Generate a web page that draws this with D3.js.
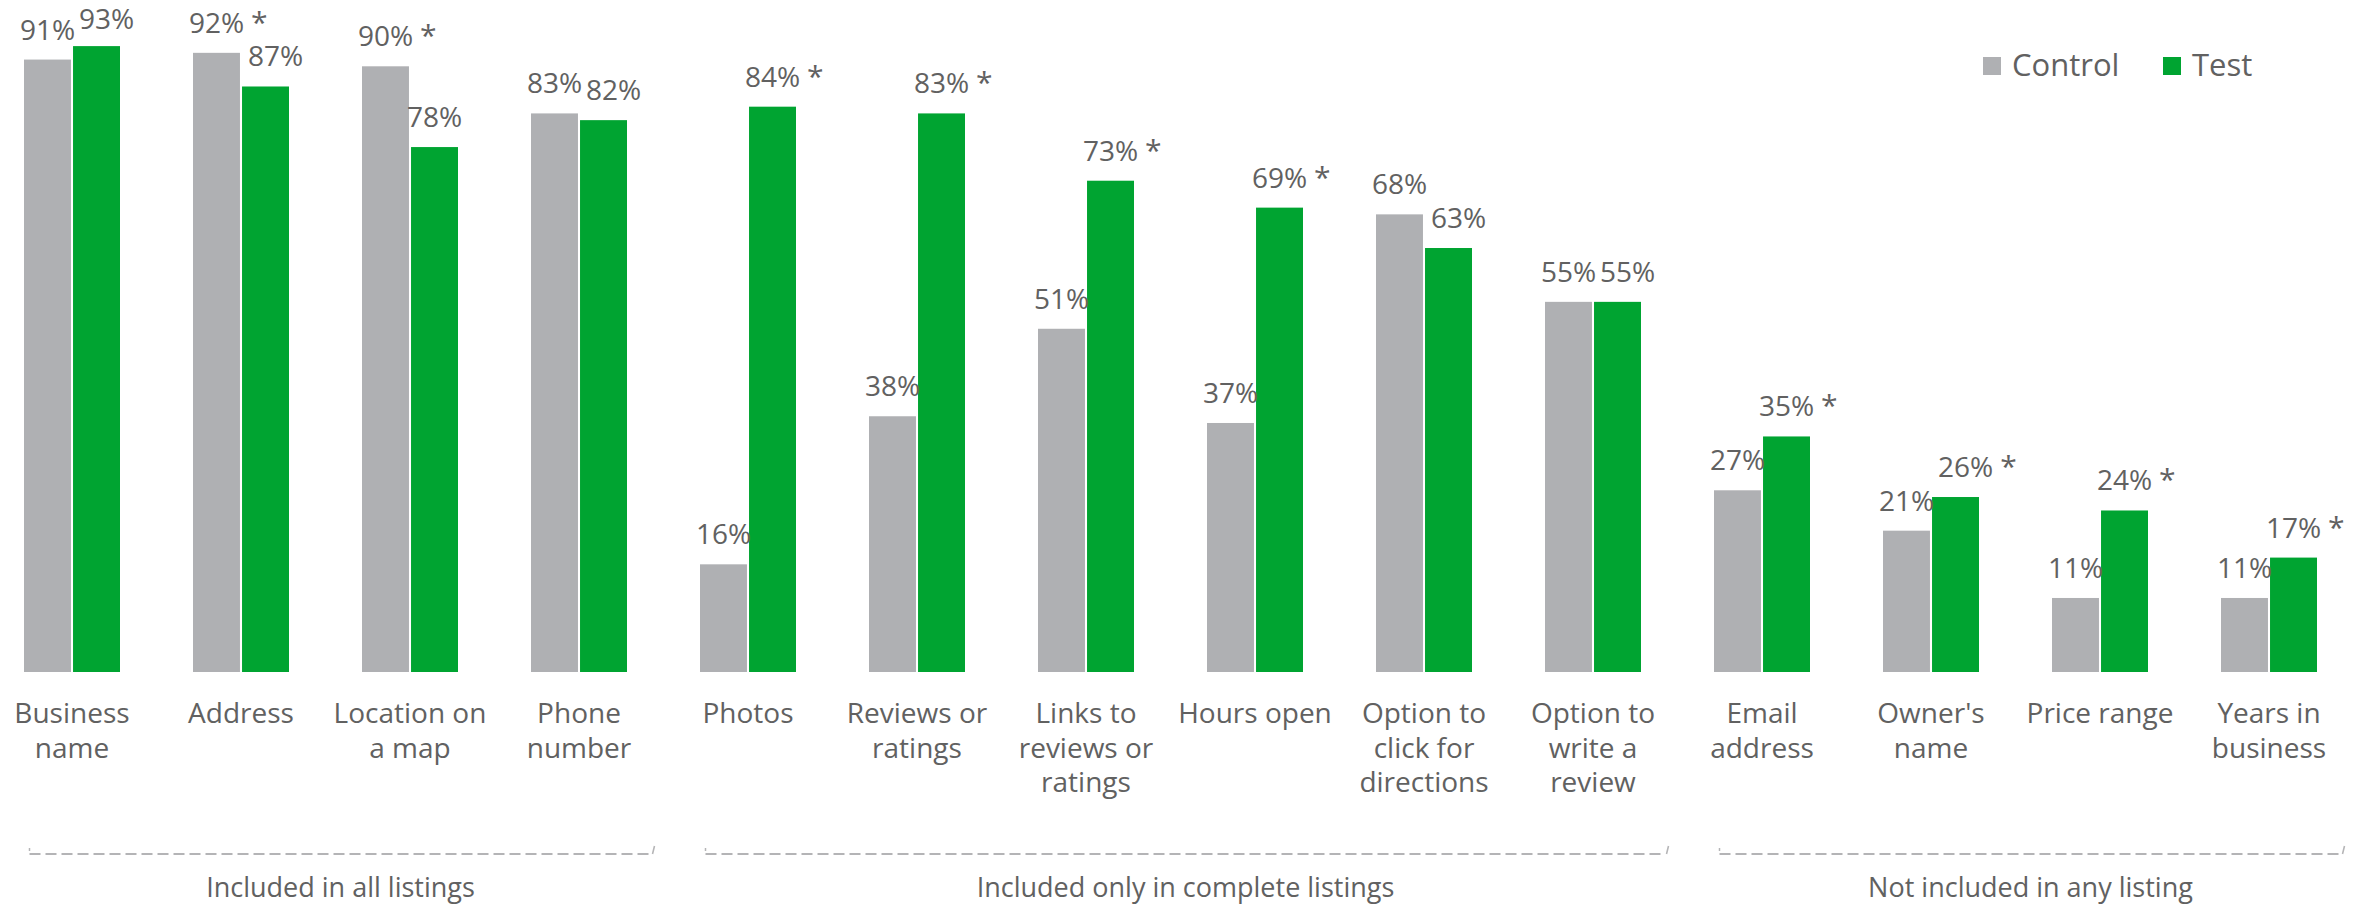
<!DOCTYPE html>
<html>
<head>
<meta charset="utf-8">
<script src="https://cdn.jsdelivr.net/npm/d3@7"></script>
<style>
  html, body { margin: 0; padding: 0; background: #fff; }
  svg { display: block; font-family: "Open Sans", sans-serif; }
</style>
</head>
<body>
<svg id="chart" width="2367" height="907"></svg>
<script>
// ---- data ----
const categories = [
  "Business\nname", "Address", "Location on\na map", "Phone\nnumber",
  "Photos", "Reviews or\nratings", "Links to\nreviews or\nratings", "Hours open",
  "Option to\nclick for\ndirections", "Option to\nwrite a\nreview",
  "Email\naddress", "Owner's\nname", "Price range", "Years in\nbusiness"
];
const seriesNames = ["Control", "Test"];
const controlValues = [91, 92, 90, 83, 16, 38, 51, 37, 68, 55, 27, 21, 11, 11];
const testValues    = [93, 87, 78, 82, 84, 83, 73, 69, 63, 55, 35, 26, 24, 17];
// significance markers (asterisk after the label)
const controlSig = [false, true, true, false, false, false, false, false, false, false, false, false, false, false];
const testSig    = [false, false, false, false, true, true, true, true, false, false, true, true, true, true];
const groupLabels = ["Included in all listings", "Included only in complete listings", "Not included in any listing"];
const groupFrom = [0, 4, 10];
const groupTo   = [3, 9, 13];
const colors = ["#AFB0B3", "#00A431"];

// ---- layout ----
const svg = d3.select("#chart");
const textColor = "#616161";

const x0 = d3.scaleBand().domain(d3.range(categories.length)).range([-12.5, 2353.5]).paddingInner(0).paddingOuter(0);
const bw = x0.bandwidth();
const x1 = d3.scaleBand().domain(seriesNames).range([bw / 2 - 48, bw / 2 + 48]).paddingInner(0.042);
const y = d3.scaleLinear().domain([0, 100]).range([672, -1]);
const labelY = v => Math.max(y(v) - 20, 29);

const rows = categories.map((c, i) => ({
  i, name: c,
  vals: [
    { s: "Control", v: controlValues[i], sig: controlSig[i], k: 0 },
    { s: "Test", v: testValues[i], sig: testSig[i], k: 1 }
  ]
}));

const cat = svg.append("g").selectAll("g.cat").data(rows).join("g")
  .attr("class", "cat")
  .attr("transform", d => `translate(${x0(d.i)},0)`);

cat.selectAll("rect").data(d => d.vals).join("rect")
  .attr("x", d => x1(d.s))
  .attr("width", x1.bandwidth())
  .attr("y", d => y(d.v))
  .attr("height", d => y(0) - y(d.v))
  .attr("fill", d => colors[d.k]);

// value labels (test label nudged right when it would collide with control label)
cat.each(function(row) {
  const gsel = d3.select(this);
  const texts = row.vals.map(d => gsel.append("text")
    .attr("x", x1(d.s) + x1.bandwidth() / 2)
    .attr("y", labelY(d.v))
    .attr("text-anchor", "middle")
    .attr("font-size", 28)
    .attr("fill", textColor)
    .text(d.v + "%"));
  const wC = texts[0].node().getComputedTextLength();
  const wT = texts[1].node().getComputedTextLength();
  const cC = x1("Control") + x1.bandwidth() / 2;
  let cT = x1("Test") + x1.bandwidth() / 2;
  if (Math.abs(labelY(row.vals[0].v) - labelY(row.vals[1].v)) < 36) {
    const overlap = (cC + wC / 2 + 4) - (cT - wT / 2);
    if (overlap > 0) cT += overlap;
  }
  texts[1].attr("x", cT);
  const centers = [cC, cT], widths = [wC, wT];
  row.vals.forEach((d, k) => {
    if (!d.sig) return;
    gsel.append("text")
      .attr("x", centers[k] + widths[k] / 2 + 7)
      .attr("y", labelY(d.v))
      .attr("font-size", 30)
      .attr("fill", textColor)
      .text("*");
  });
});

// category labels
cat.append("text")
  .attr("text-anchor", "middle")
  .attr("font-size", 28)
  .attr("fill", textColor)
  .selectAll("tspan").data(d => d.name.split("\n")).join("tspan")
  .attr("x", bw / 2)
  .attr("y", (d, j) => 723 + j * 34.5)
  .text(d => d);

// group brackets
const lineY = 854;
const lineColor = "#B4B4B6";
groupLabels.forEach((lbl, gi) => {
  const xs = x0(groupFrom[gi]) + 42;
  const xe = x0(groupTo[gi]) + bw - 12;
  svg.append("line")
    .attr("x1", xs).attr("x2", xe).attr("y1", lineY).attr("y2", lineY)
    .attr("stroke", lineColor).attr("stroke-width", 2)
    .attr("stroke-dasharray", "11,5");
  svg.append("line")
    .attr("x1", xs).attr("x2", xs).attr("y1", lineY - 6).attr("y2", lineY - 3)
    .attr("stroke", lineColor).attr("stroke-width", 1.5);
  svg.append("line")
    .attr("x1", xe + 1).attr("x2", xe + 3).attr("y1", lineY).attr("y2", lineY - 8)
    .attr("stroke", lineColor).attr("stroke-width", 1.5);
  svg.append("text")
    .attr("x", (xs + xe) / 2)
    .attr("y", 897)
    .attr("text-anchor", "middle")
    .attr("font-size", 27)
    .attr("fill", textColor)
    .text(lbl);
});

// legend
const legendX = [1983, 2163];
const leg = svg.selectAll("g.leg").data(seriesNames).join("g")
  .attr("class", "leg")
  .attr("transform", (d, i) => `translate(${legendX[i]},0)`);
leg.append("rect").attr("x", 0).attr("y", 57).attr("width", 18).attr("height", 18)
  .attr("fill", (d, i) => colors[i]);
leg.append("text").attr("x", 29).attr("y", 76)
  .attr("font-size", 31).attr("fill", textColor).text(d => d);
</script>
</body>
</html>
